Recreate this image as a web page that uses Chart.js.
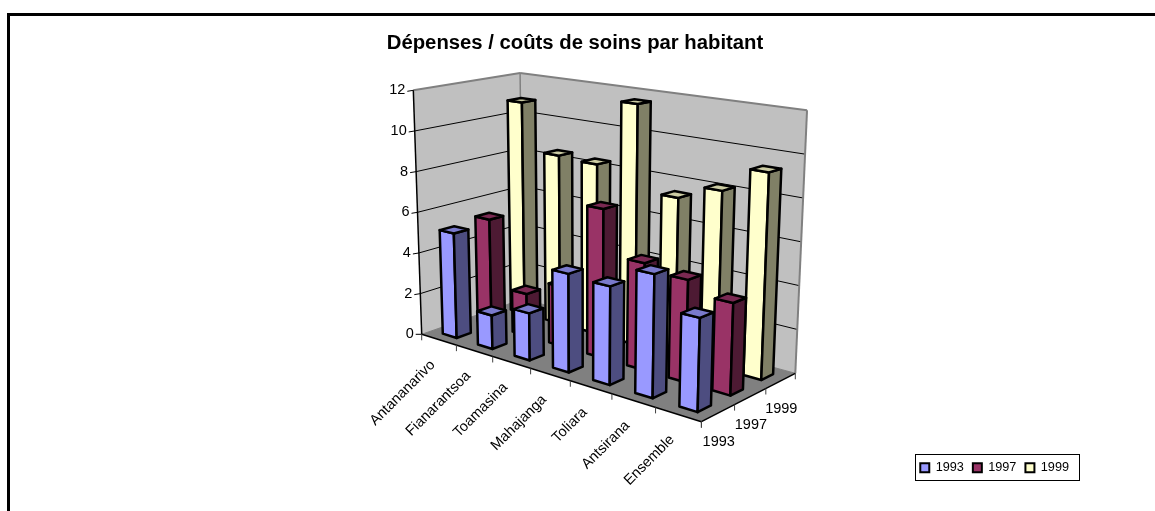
<!DOCTYPE html>
<html><head><meta charset="utf-8">
<style>html,body{margin:0;padding:0;background:#fff}canvas{display:block}</style>
<script src="https://cdn.jsdelivr.net/npm/chart.js@4"></script>
</head><body><canvas id="c" width="1155" height="511"></canvas>
<script>
const categories=['Antananarivo','Fianarantsoa','Toamasina','Mahajanga','Toliara','Antsirana','Ensemble'];
const seriesNames=['1993','1997','1999'];
const values1993=[5.1,1.6,2.2,4.5,4.4,5.4,4.0];
const values1997=[5.3,2.05,2.85,7.0,4.9,4.6,4.05];
const values1999=[10.85,8.45,8.35,11.6,7.45,8.15,9.35];
const FONT='"Liberation Sans", Arial, sans-serif';
const faceColors=['#9999FF','#993366','#FFFFCC'];
const sideColors=['#4D4D80','#4D1A33','#808066'];
const topColors=['#7A7ACC','#7A2952','#CCCCA3'];
const floorCorners=[[421.7,334.3],[701.4,421.7],[795.3,373.3],[523,299]];
const wallHeights=[244,263,226];
const vanish=[585,5087];
const barFrac=0.40;

function homography(q){
  const [x0,y0]=q[0],[x1,y1]=q[1],[x2,y2]=q[2],[x3,y3]=q[3];
  const dx1=x1-x2,dx2=x3-x2,sx=x0-x1+x2-x3,dy1=y1-y2,dy2=y3-y2,sy=y0-y1+y2-y3;
  const d=dx1*dy2-dx2*dy1;
  const g=(sx*dy2-dx2*sy)/d,h=(dx1*sy-sx*dy1)/d;
  const a=x1-x0+g*x1,b=x3-x0+h*x3,e=y1-y0+g*y1,f=y3-y0+h*y3;
  return (u,v)=>{const w=g*u+h*v+1;return [(a*u+b*v+x0)/w,(e*u+f*v+y0)/w];};
}
const Hf=homography(floorCorners);
const invA=1/wallHeights[0],invC=1/wallHeights[1],invD=1/wallHeights[2],invB=invA+invC-invD;
const heightAt=(u,w)=>1/(invA+(invB-invA)*u+(invD-invA)*w);

const bar3d={id:'bar3d',
 beforeDraw(chart){
  const c=chart.ctx;c.save();c.fillStyle='#000';
  c.fillRect(7,13,1148,3);c.fillRect(7,13,3,498);c.restore();
 },
 afterLayout(chart){
  chart.titleBlock.left=0;chart.titleBlock.right=1150;
 },
 beforeDatasetsDraw(chart){
  const c=chart.ctx,xs=chart.scales.x,ys=chart.scales.y,zs=chart.scales.z;
  const nx=v=>(xs.getPixelForValue(v)-xs.left)/xs.width;
  const nz=v=>(zs.getPixelForValue(v)-zs.left)/zs.width;
  const ny=v=>(ys.bottom-ys.getPixelForValue(v))/ys.height;
  const P=(u,w,v)=>{const a=Hf(u,w),h=heightAt(u,w)*ny(v),k=(a[0]-vanish[0])/(vanish[1]-a[1]);return [a[0]+k*h,a[1]-h];};
  const poly=(pts,fill,stroke,lw)=>{c.beginPath();pts.forEach((p,i)=>i?c.lineTo(p[0],p[1]):c.moveTo(p[0],p[1]));c.closePath();
    if(fill){c.fillStyle=fill;c.fill();}
    if(stroke){c.strokeStyle=stroke;c.lineWidth=lw;c.lineJoin='round';c.stroke();}};
  const line=(a,b,col,lw)=>{c.beginPath();c.moveTo(a[0],a[1]);c.lineTo(b[0],b[1]);c.strokeStyle=col;c.lineWidth=lw;c.stroke();};
  const vMax=ys.max;
  c.save();
  poly([P(0,0,0),P(0,1,0),P(0,1,vMax),P(0,0,vMax)],'#C0C0C0');
  poly([P(0,1,0),P(1,1,0),P(1,1,vMax),P(0,1,vMax)],'#C0C0C0');
  poly([P(0,0,0),P(1,0,0),P(1,1,0),P(0,1,0)],'#808080');
  ys.ticks.forEach(t=>{
    if(t.value>0&&t.value<vMax){
      line(P(0,0,t.value),P(0,1,t.value),'#000',1);
      line(P(0,1,t.value),P(1,1,t.value),'#000',1);
    }
  });
  line(P(0,0,vMax),P(0,1,vMax),'#808080',2);
  line(P(0,1,vMax),P(1,1,vMax),'#808080',2);
  line(P(1,1,vMax),P(1,1,0),'#808080',2);
  line(P(0,1,vMax),P(0,1,0),'#808080',1.5);
  line(P(0,0,0),P(0,1,0),'#808080',1);
  line(P(0,1,0),P(1,1,0),'#808080',1);
  const cellX=1/categories.length,cellZ=1/seriesNames.length;
  for(let s=chart.data.datasets.length-1;s>=0;s--){
    const ds=chart.data.datasets[s];
    ds.data.forEach((val,i)=>{
      const cx=nx(i),cz=nz(s);
      const x0=cx-cellX*barFrac/2,x1=cx+cellX*barFrac/2,z0=cz-cellZ*barFrac/2,z1=cz+cellZ*barFrac/2;
      poly([P(x0,z0,0),P(x1,z0,0),P(x1,z0,val),P(x0,z0,val)],faceColors[s],'#000',2.5);
      poly([P(x1,z0,0),P(x1,z1,0),P(x1,z1,val),P(x1,z0,val)],sideColors[s],'#000',2.5);
      poly([P(x0,z0,val),P(x1,z0,val),P(x1,z1,val),P(x0,z1,val)],topColors[s],'#000',2.5);
    });
  }
  line(P(0,0,0),P(0,0,vMax),'#000',1.5);
  line(P(0,0,0),P(1,0,0),'#000',1.5);
  line(P(1,0,0),P(1,1,0),'#000',1.5);
  c.fillStyle='#000';c.font='14.5px '+FONT;
  ys.ticks.forEach(t=>{
    const p=P(0,0,t.value);
    line(p,[p[0]-6,p[1]+(t.value===0?0:1)],'#000',1);
    c.textAlign='right';c.textBaseline='middle';c.fillText(t.label,p[0]-8,p[1]);
  });
  for(let i=0;i<=categories.length;i++){
    const p=P(nx(i-0.5),0,0);line(p,[p[0],p[1]+6],'#404040',1);
  }
  for(let i=0;i<=seriesNames.length;i++){
    const p=P(1,nz(i-0.5),0);line(p,[p[0],p[1]+6],'#404040',1);
  }
  c.fillStyle='#000';
  categories.forEach((lab,i)=>{
    const p=P(nx(i),0,0);
    c.save();c.translate(p[0]-6,p[1]+23);c.rotate(-Math.PI/4);
    c.textAlign='right';c.textBaseline='middle';c.fillText(lab,0,0);c.restore();
  });
  seriesNames.forEach((lab,i)=>{
    const p=P(1,nz(i),0);
    c.textAlign='center';c.textBaseline='middle';c.fillText(lab,p[0]+0.5,p[1]+28.5);
  });
  c.restore();
  return false;
 },
 afterDraw(chart){
  const boxes=chart.legend.legendHitBoxes;if(!boxes||!boxes.length)return;
  const c=chart.ctx,last=boxes[boxes.length-1],l=boxes[0].left-5,r=last.left+last.width+10,t=boxes[0].top-7,b=boxes[0].top+boxes[0].height+6;
  c.save();c.strokeStyle='#000';c.lineWidth=1;c.strokeRect(Math.round(l)+.5,Math.round(t)+.5,Math.round(r-l),Math.round(b-t));c.restore();
 }
};

new Chart(document.getElementById('c'),{
 type:'bar',
 data:{labels:categories,datasets:[
  {label:seriesNames[0],data:values1993,backgroundColor:faceColors[0],borderColor:'#000',borderWidth:2},
  {label:seriesNames[1],data:values1997,backgroundColor:faceColors[1],borderColor:'#000',borderWidth:2},
  {label:seriesNames[2],data:values1999,backgroundColor:faceColors[2],borderColor:'#000',borderWidth:2}
 ]},
 plugins:[bar3d],
 options:{
  responsive:false,animation:false,
  layout:{padding:{right:77,bottom:27}},
  plugins:{
   tooltip:{enabled:false},
   title:{display:true,text:'Dépenses / coûts de soins par habitant',color:'#000',font:{family:FONT,size:20.3,weight:'bold'},padding:{top:31,bottom:6}},
   legend:{display:true,position:'bottom',align:'end',labels:{boxWidth:9,boxHeight:9,padding:9,color:'#000',font:{family:FONT,size:12.7}}}
  },
  scales:{
   x:{type:'category',display:false,offset:true},
   z:{type:'category',axis:'x',labels:seriesNames,display:false,offset:true},
   y:{type:'linear',display:false,min:0,max:12,ticks:{stepSize:2}}
  }
 }
});
</script></body></html>
